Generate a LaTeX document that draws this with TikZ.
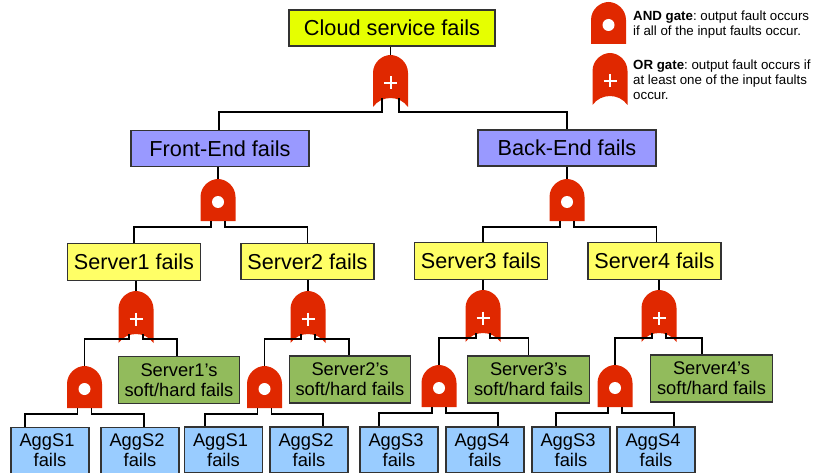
\documentclass[tikz,border=0pt]{standalone}
\usepackage{fontspec}
\setmainfont{Liberation Sans}
\usepackage{xcolor}
\definecolor{gatered}{HTML}{E02800}
\definecolor{topyellow}{HTML}{E6FF00}
\definecolor{midblue}{HTML}{9999FF}
\definecolor{srvyellow}{HTML}{FFFF66}
\definecolor{softgreen}{HTML}{92BB5C}
\definecolor{aggblue}{HTML}{99CCFF}
\definecolor{edgegrey}{HTML}{333333}
\newcommand{\trail}{\rule{6pt}{0pt}}

\begin{document}
\begin{tikzpicture}[
  x=1pt, y=-1pt,
  box/.style={draw=edgegrey, line width=1.2pt, align=center, inner sep=0pt},
  topbox/.style={box, fill=topyellow, minimum width=206pt, minimum height=36pt, font=\fontsize{21.7}{24}\selectfont},
  midbox/.style={box, fill=midblue, minimum width=178pt, minimum height=36pt, font=\fontsize{21.7}{24}\selectfont},
  srvbox/.style={box, fill=srvyellow, minimum width=133pt, minimum height=36.5pt, font=\fontsize{21.6}{24}\selectfont},
  softbox/.style={box, fill=softgreen, minimum width=121.5pt, minimum height=47pt, font=\fontsize{18.3}{20}\selectfont},
  aggbox/.style={box, fill=aggblue, minimum width=78pt, minimum height=46pt, font=\fontsize{18.3}{20}\selectfont},
  note/.style={align=left, inner sep=0pt, font=\frenchspacing\fontsize{13.3}{15}\selectfont},
  wire/.style={draw=black, line width=1.5pt},
  andgate/.pic={
    \fill[gatered] (-17.5,42) -- (17.5,42) -- (17.5,18) .. controls (17.5,7) and (8,0) .. (0,0)
      .. controls (-8,0) and (-17.5,7) .. (-17.5,18) -- cycle;
    \fill[white] (0,23) circle (6);
    \coordinate (-top) at (0,0);
    \coordinate (-l) at (-7,42);
    \coordinate (-r) at (7,42);
  },
  orgate/.pic={
    \fill[gatered] (-17.5,52) .. controls (-9,40) and (9,40) .. (17.5,52) -- (17.5,18)
      .. controls (17.5,7) and (8,0) .. (0,0) .. controls (-8,0) and (-17.5,7) .. (-17.5,18) -- cycle;
    \draw[white, line width=2pt] (-6.5,28) -- (6.5,28) (0,21.5) -- (0,34.5);
    \coordinate (-top) at (0,0);
    \coordinate (-l) at (-7,43);
    \coordinate (-r) at (7,43);
  }
]
\useasboundingbox (0,0) rectangle (813,473);

\node[topbox] (cloud) at (392,28) {Cloud service fails};
\node[midbox] (front) at (220,148.7) {Front-End fails};
\node[midbox] (back)  at (567,148) {Back-End fails};

\node[srvbox] (srv1) at (134,262) {Server1 fails};
\node[srvbox] (srv2) at (307.5,261.5) {Server2 fails};
\node[srvbox] (srv3) at (481,261) {Server3 fails};
\node[srvbox] (srv4) at (654.5,261) {Server4 fails};

\node[softbox] (soft1) at (179,380) {Server1's\\soft/hard fails};
\node[softbox] (soft2) at (350,379.5) {Server2's\\soft/hard fails};
\node[softbox] (soft3) at (528.5,379.5) {Server3's\\soft/hard fails};
\node[softbox] (soft4) at (711.5,378.5) {Server4's\\soft/hard fails};

\node[aggbox] (agg1) at (50,450.5) {AggS1\trail\\fails};
\node[aggbox] (agg2) at (140,450.5) {AggS2\trail\\fails};
\node[aggbox] (agg3) at (223.5,450) {AggS1\trail\\fails};
\node[aggbox] (agg4) at (309,450) {AggS2\trail\\fails};
\node[aggbox] (agg5) at (399,450) {AggS3\trail\\fails};
\node[aggbox] (agg6) at (485,450) {AggS4\trail\\fails};
\node[aggbox] (agg7) at (571,450) {AggS3\trail\\fails};
\node[aggbox] (agg8) at (656,450) {AggS4\trail\\fails};

% gates
\pic (top) at (390.5,55) {orgate};
\pic (gfront) at (218,179) {andgate};
\pic (gback) at (567,179) {andgate};
\pic (or1) at (136,291) {orgate};
\pic (or2) at (308,291) {orgate};
\pic (or3) at (483,290) {orgate};
\pic (or4) at (659,290) {orgate};
\pic (and1) at (84.5,366) {andgate};
\pic (and2) at (264.5,366) {andgate};
\pic (and3) at (439,365) {andgate};
\pic (and4) at (615,365) {andgate};

\draw[wire] (cloud.south -| top-top) -- (top-top);
\draw[wire] ([xshift=-1.5pt]top-l) -- ++(0,14) -| ([xshift=-1pt]front.north);
\draw[wire] ([xshift=1.5pt]top-r) -- ++(0,14) -| (back.north);

\draw[wire] (front.south -| gfront-top) -- (gfront-top);
\draw[wire] (back.south -| gback-top) -- (gback-top);
\draw[wire] (gfront-l) -- ++(0,6) -| (srv1.north);
\draw[wire] (gfront-r) -- ++(0,6) -| (srv2.north);
\draw[wire] (gback-l) -- ++(0,6) -| ([xshift=2pt]srv3.north);
\draw[wire] (gback-r) -- ++(0,6) -| ([xshift=2pt]srv4.north);

\foreach \i/\l/\r/\sx/\ax/\bx in {1/1/2/-2/-25/4, 2/3/4/-1/-18.5/14, 3/5/6/0/-20/13, 4/7/8/-9.5/-15/18} {
  \draw[wire] (srv\i.south -| or\i-top) -- (or\i-top);
  \draw[wire] (or\i-l) -- ++(0,5) -| (and\i-top);
  \draw[wire] (or\i-r) -- ++(0,5) -| ([xshift=\sx pt]soft\i.north);
  \draw[wire] (and\i-l) -- ++(0,6) -| ([xshift=\ax pt]agg\l.north);
  \draw[wire] (and\i-r) -- ++(0,6) -| ([xshift=\bx pt]agg\r.north);
}

% legend
\pic (keyand) at (608.5,2) {andgate};
\pic (keyor) at (610,53) {orgate};
\node[note, anchor=west] (andnote) at (633,24.5) {\textbf{AND gate}: output fault occurs\\if all of the input faults occur.};
\node[note, anchor=west] (ornote) at (633,80) {\textbf{OR gate}: output fault occurs if\\at least one of the input faults\\occur.};

\end{tikzpicture}
\end{document}
